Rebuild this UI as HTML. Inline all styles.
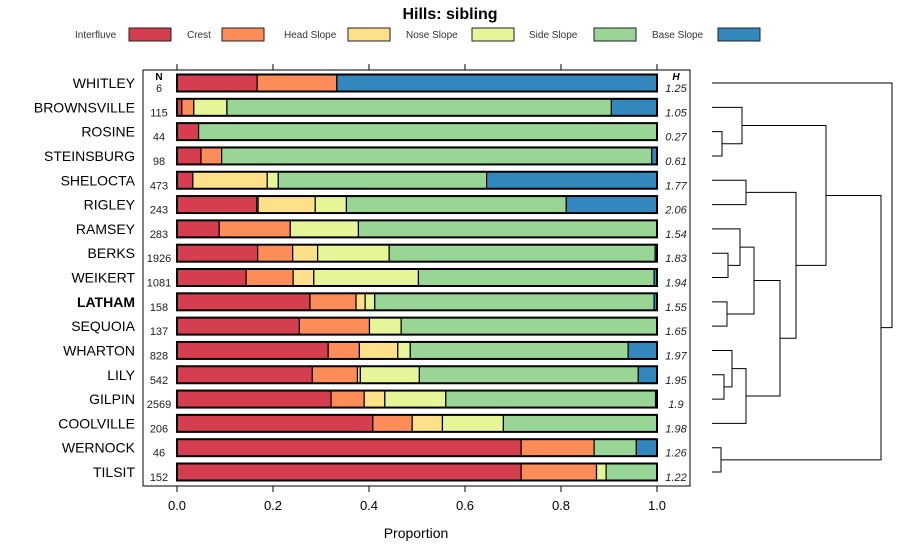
<!DOCTYPE html>
<html><head><meta charset="utf-8"><style>
body{margin:0;background:#fff;font-family:"Liberation Sans",sans-serif}
svg{display:block}
</style></head><body>
<svg id="c" width="900" height="560" viewBox="0 0 900 560" font-family="Liberation Sans, sans-serif">
<text x="450" y="19" text-anchor="middle" font-size="16" font-weight="bold" fill="#000">Hills: sibling</text>
<g id="legend"></g>
<rect x="143" y="70" width="547" height="416" fill="none" stroke="#000" stroke-width="1"/>
<g id="bars"></g>
<g id="axis"></g>
<g id="dendro"></g>
<text x="416" y="538" text-anchor="middle" font-size="14" fill="#000">Proportion</text>
</svg>
<script>
const series = ["Interfluve","Crest","Head Slope","Nose Slope","Side Slope","Base Slope"];
const colors = ["#D53E4F","#FC8D59","#FEE08B","#E6F598","#99D594","#3288BD"];
const categories = ["WHITLEY","BROWNSVILLE","ROSINE","STEINSBURG","SHELOCTA","RIGLEY","RAMSEY","BERKS","WEIKERT","LATHAM","SEQUOIA","WHARTON","LILY","GILPIN","COOLVILLE","WERNOCK","TILSIT"];
const nValues = ["6","115","44","98","473","243","283","1926","1081","158","137","828","542","2569","206","46","152"];
const hValues = ["1.25","1.05","0.27","0.61","1.77","2.06","1.54","1.83","1.94","1.55","1.65","1.97","1.95","1.9","1.98","1.26","1.22"];
const interfluve = [0.167,0.010,0.045,0.050,0.033,0.166,0.088,0.168,0.144,0.277,0.255,0.315,0.282,0.321,0.408,0.717,0.717];
const crest      = [0.166,0.025,0,0.043,0,0.003,0.148,0.073,0.098,0.096,0.146,0.065,0.094,0.069,0.082,0.152,0.157];
const headSlope  = [0,0,0,0,0.155,0.119,0,0.052,0.043,0.019,0,0.080,0.006,0.043,0.063,0,0];
const noseSlope  = [0,0.069,0,0,0.023,0.065,0.142,0.149,0.218,0.020,0.066,0.026,0.123,0.127,0.127,0,0.020];
const sideSlope  = [0,0.801,0.955,0.896,0.434,0.458,0.622,0.554,0.491,0.582,0.533,0.454,0.456,0.437,0.320,0.088,0.106];
const baseSlope  = [0.667,0.095,0,0.011,0.355,0.189,0,0.004,0.006,0.006,0,0.060,0.039,0.003,0,0.043,0];
const boldCategory = "LATHAM";
const xTicks = [0,0.2,0.4,0.6,0.8,1.0];
const xTickLabels = ["0.0","0.2","0.4","0.6","0.8","1.0"];
// dendrogram merges: [leftNode,rightNode,height]; leaves are row indices, merged nodes are "m"+index
const merges = [
 [2,3,0.05],[1,"m0",0.15],[4,5,0.17],[7,8,0.08],[6,"m3",0.14],[9,10,0.075],["m4","m5",0.21],
 [12,13,0.06],[11,"m7",0.10],["m8",14,0.17],["m6","m9",0.34],["m2","m10",0.42],["m1","m11",0.57],
 [15,16,0.045],["m12","m13",0.845],[0,"m14",0.90]
];

const NS="http://www.w3.org/2000/svg";
function mk(tag,attrs,parent){const e=document.createElementNS(NS,tag);for(const k in attrs)e.setAttribute(k,attrs[k]);parent.appendChild(e);return e;}
const x0=177,x1=657;
const xs=v=>x0+(x1-x0)*v;
const y0=83,dy=(472-83)/16;
const ys=i=>y0+dy*i;
const bh=17;

// legend
const lg=document.getElementById('legend');
const lgText=[75,187,284,406,529,652], lgBox=[129,222,348,472,594,718];
series.forEach((s,i)=>{
  const t=mk('text',{x:lgText[i],y:38,'font-size':10,fill:'#333'},lg);t.textContent=s;
  
  
  const r=mk('rect',{x:lgBox[i],y:28,width:42,height:13,fill:colors[i],stroke:'#222','stroke-width':1},lg);
  
  
});

// bars
const bars=document.getElementById('bars');
const all=[interfluve,crest,headSlope,noseSlope,sideSlope,baseSlope];
const Nh=mk('text',{x:159,y:80,'font-size':10,'font-weight':'bold','text-anchor':'middle'},bars);Nh.textContent='N';


const Hh=mk('text',{x:676,y:80,'font-size':10,'font-weight':'bold','font-style':'italic','text-anchor':'middle'},bars);Hh.textContent='H';


categories.forEach((c,i)=>{
  const y=ys(i);
  const lab=mk('text',{x:135,y:y+5,'font-size':14,'text-anchor':'end',fill:'#000'},bars);
  lab.textContent=c;if(c===boldCategory)lab.setAttribute('font-weight','bold');
  
  
  const n=mk('text',{x:159,y:y+9,'font-size':11,'text-anchor':'middle',fill:'#222'},bars);n.textContent=nValues[i];
  
  
  const h=mk('text',{x:676,y:y+9,'font-size':11,'font-style':'italic','text-anchor':'middle',fill:'#222'},bars);h.textContent=hValues[i];
  
  
  let cum=0;
  all.forEach((arr,k)=>{
    const v=arr[i];if(v<=0)return;
    const r=mk('rect',{x:xs(cum),y:y-bh/2,width:xs(cum+v)-xs(cum),height:bh,fill:colors[k],stroke:'#000','stroke-width':1.2},bars);
    
    
    cum+=v;
  });
  const o=mk('rect',{x:x0,y:y-bh/2,width:x1-x0,height:bh,fill:'none',stroke:'#000','stroke-width':2},bars);
  
  
});

// axis
const ax=document.getElementById('axis');
xTicks.forEach((t,i)=>{
  const x=xs(t);
  const l1=mk('line',{x1:x,x2:x,y1:486,y2:492,stroke:'#000'},ax);
  
  
  const l2=mk('line',{x1:x,x2:x,y1:64,y2:70,stroke:'#000'},ax);
  
  
  const tx=mk('text',{x:x,y:510,'font-size':13,'text-anchor':'middle'},ax);tx.textContent=xTickLabels[i];
  
  
});

// dendrogram
const dg=document.getElementById('dendro');
const dLeaf=712, dScale=(892-712)/0.90;
const dx=h=>dLeaf+h*dScale;
const nodes={};
categories.forEach((c,i)=>{nodes[i]={x:dLeaf,y:ys(i)};});
merges.forEach((m,j)=>{
  const a=nodes[m[0]],b=nodes[m[1]],hx=dx(m[2]);
  const p=mk('path',{d:`M${a.x},${a.y}H${hx}V${b.y}H${b.x}`,fill:'none',stroke:'#000','stroke-width':1},dg);
  
  
  nodes['m'+j]={x:hx,y:(a.y+b.y)/2};
});
</script>
</body></html>
